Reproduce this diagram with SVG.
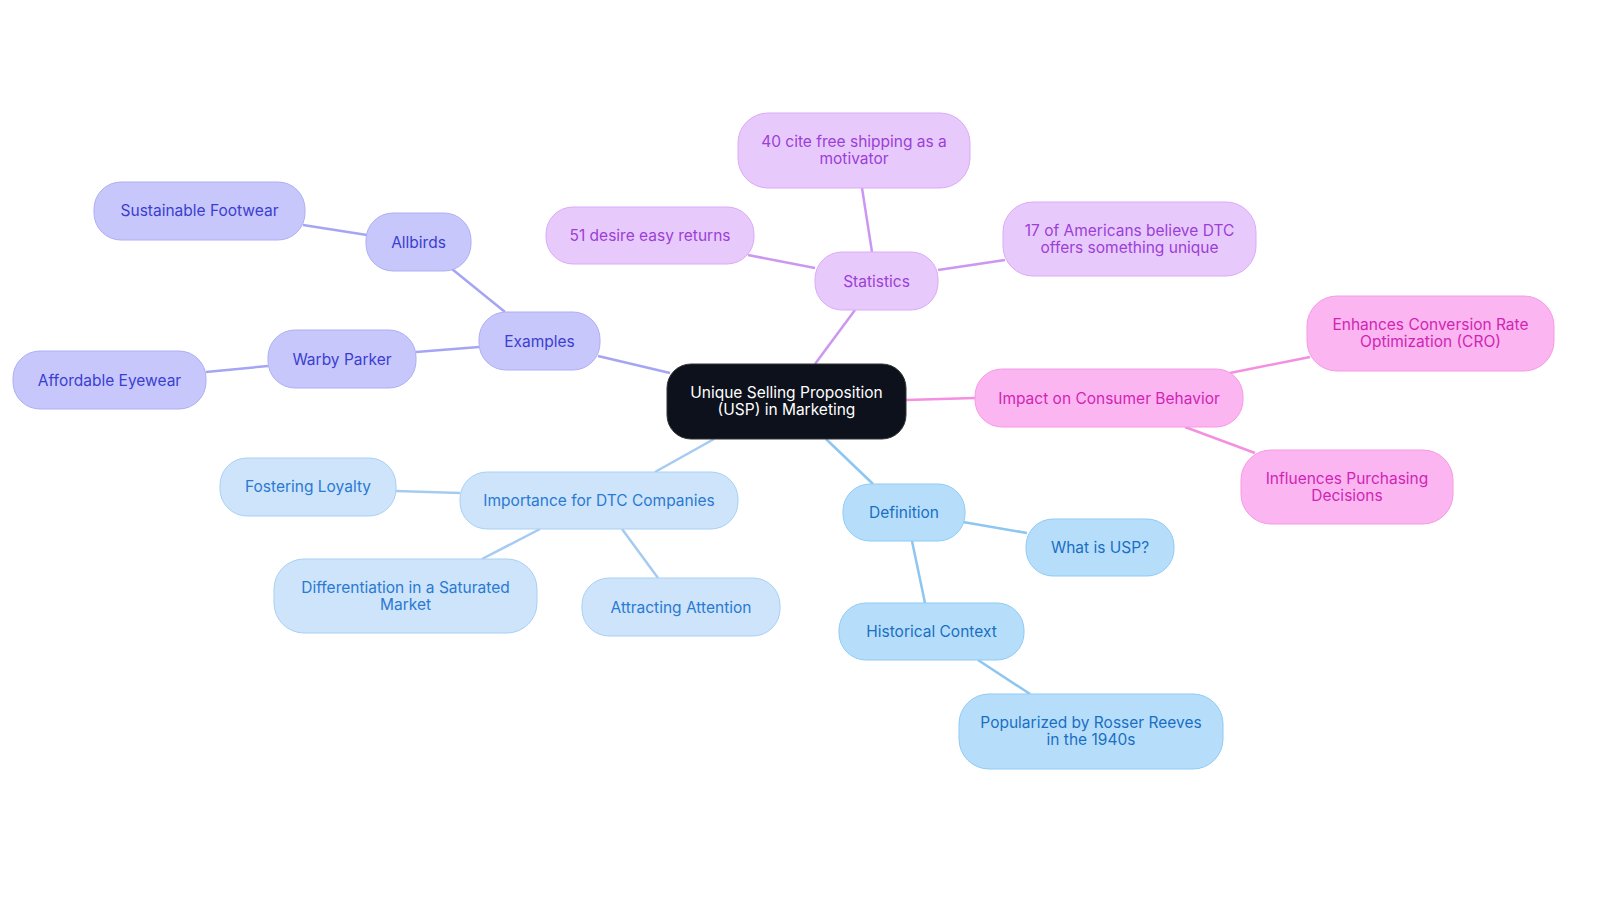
<svg xmlns="http://www.w3.org/2000/svg" width="1600" height="903" viewBox="0 0 1600 903">
<style>
text{font-family:Inter,"Noto Sans","Liberation Sans",sans-serif;font-size:15.5px;text-anchor:middle;dominant-baseline:central}
.e{stroke-width:2.5;fill:none}
.ex rect{fill:#c7c7fb;stroke:#aeaef5}.ex text{fill:#3b3ed0}
.st rect{fill:#e8c9fc;stroke:#dbaaf7}.st text{fill:#9b3fd6}
.pk rect{fill:#fbb5f0;stroke:#f59ae6}.pk text{fill:#d025b4}
.df rect{fill:#b6defb;stroke:#8fcbf5}.df text{fill:#1a6fc2}
.im rect{fill:#cde4fb;stroke:#a8d0f5}.im text{fill:#2a79d2}
</style>
<g id="connectors">
<g class="e" stroke="#cb97f0"><line x1="815" y1="364" x2="855" y2="310"/><line x1="872" y1="252" x2="862" y2="188"/><line x1="815" y1="268" x2="748" y2="255"/><line x1="938" y1="270" x2="1005" y2="260"/></g>
<g class="e" stroke="#f58fdf"><line x1="906" y1="400" x2="975" y2="398"/><line x1="1230" y1="373" x2="1310" y2="357"/><line x1="1185" y1="427" x2="1255" y2="453"/></g>
<g class="e" stroke="#8cc6f1"><line x1="826" y1="439" x2="873" y2="484"/><line x1="963" y1="522" x2="1027" y2="533"/><line x1="912" y1="541" x2="925" y2="603"/><line x1="978" y1="660" x2="1030" y2="694"/></g>
<g class="e" stroke="#a6cbf0"><line x1="714" y1="439" x2="655" y2="472"/><line x1="460" y1="493" x2="396" y2="491"/><line x1="540" y1="529" x2="482" y2="559"/><line x1="622" y1="529" x2="658" y2="578"/></g>
<g class="e" stroke="#a5a5f3"><line x1="670" y1="373" x2="598" y2="356"/><line x1="505" y1="312" x2="452" y2="269"/><line x1="367" y1="235" x2="303" y2="225"/><line x1="479" y1="347" x2="416" y2="352"/><line x1="268" y1="366" x2="206" y2="372"/></g>
</g>
<g id="root"><rect x="667" y="364" width="239" height="75" rx="24" fill="#0c111b" stroke="#333"/><text x="786.5" y="392" fill="#fff">Unique Selling Proposition</text><text x="786.5" y="409" fill="#fff">(USP) in Marketing</text></g>
<g id="statistics" class="st"><rect x="815" y="252" width="123" height="58" rx="27"/><text x="876.5" y="281">Statistics</text></g>
<g id="s1" class="st"><rect x="738" y="113" width="232" height="75" rx="30"/><text x="854" y="141">40 cite free shipping as a</text><text x="854" y="158">motivator</text></g>
<g id="s2" class="st"><rect x="546" y="207" width="208" height="57" rx="27"/><text x="650" y="235">51 desire easy returns</text></g>
<g id="s3" class="st"><rect x="1003" y="202" width="253" height="74" rx="30"/><text x="1129.5" y="230">17 of Americans believe DTC</text><text x="1129.5" y="247">offers something unique</text></g>
<g id="impact" class="pk"><rect x="975" y="369" width="268" height="58" rx="27"/><text x="1109" y="398">Impact on Consumer Behavior</text></g>
<g id="p1" class="pk"><rect x="1307" y="296" width="247" height="75" rx="30"/><text x="1430.5" y="324">Enhances Conversion Rate</text><text x="1430.5" y="341">Optimization (CRO)</text></g>
<g id="p2" class="pk"><rect x="1241" y="450" width="212" height="74" rx="30"/><text x="1347" y="478">Influences Purchasing</text><text x="1347" y="495">Decisions</text></g>
<g id="definition" class="df"><rect x="843" y="484" width="122" height="57" rx="27"/><text x="904" y="512">Definition</text></g>
<g id="d1" class="df"><rect x="1026" y="519" width="148" height="57" rx="27"/><text x="1100" y="547">What is USP?</text></g>
<g id="d2" class="df"><rect x="839" y="603" width="185" height="57" rx="27"/><text x="931.5" y="631">Historical Context</text></g>
<g id="d3" class="df"><rect x="959" y="694" width="264" height="75" rx="30"/><text x="1091" y="722">Popularized by Rosser Reeves</text><text x="1091" y="739">in the 1940s</text></g>
<g id="importance" class="im"><rect x="460" y="472" width="278" height="57" rx="27"/><text x="599" y="500">Importance for DTC Companies</text></g>
<g id="i1" class="im"><rect x="220" y="458" width="176" height="58" rx="27"/><text x="308" y="486">Fostering Loyalty</text></g>
<g id="i2" class="im"><rect x="274" y="559" width="263" height="74" rx="30"/><text x="405.5" y="587">Differentiation in a Saturated</text><text x="405.5" y="604">Market</text></g>
<g id="i3" class="im"><rect x="582" y="578" width="198" height="58" rx="27"/><text x="681" y="607">Attracting Attention</text></g>
<g id="examples" class="ex"><rect x="479" y="312" width="121" height="58" rx="27"/><text x="539.5" y="341">Examples</text></g>
<g id="e1" class="ex"><rect x="366" y="213" width="105" height="58" rx="27"/><text x="418.5" y="242">Allbirds</text></g>
<g id="e2" class="ex"><rect x="94" y="182" width="211" height="58" rx="27"/><text x="199.5" y="210">Sustainable Footwear</text></g>
<g id="e3" class="ex"><rect x="268" y="330" width="148" height="58" rx="27"/><text x="342" y="359">Warby Parker</text></g>
<g id="e4" class="ex"><rect x="13" y="351" width="193" height="58" rx="27"/><text x="109.5" y="380">Affordable Eyewear</text></g>
</svg>
